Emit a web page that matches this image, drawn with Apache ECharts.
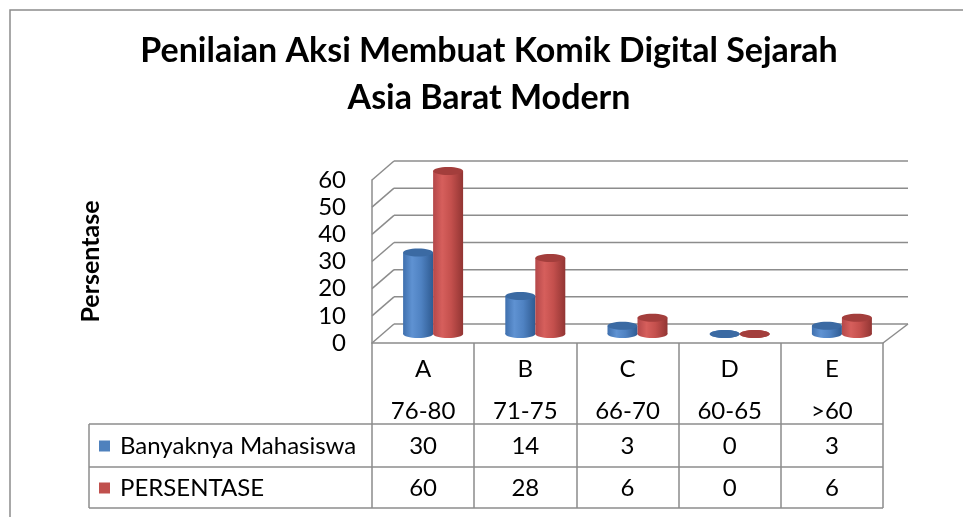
<!DOCTYPE html>
<html>
<head>
<meta charset="utf-8">
<title>Penilaian Aksi Membuat Komik Digital Sejarah Asia Barat Modern</title>
<script src="https://cdn.jsdelivr.net/npm/echarts@6/dist/echarts.min.js"></script>
<style>
  html, body { margin: 0; padding: 0; background: #fff; }
  #chart { width: 963px; height: 517px; }
</style>
</head>
<body>
<div id="chart"></div>
<script>
// 数据
const categories = ['A', 'B', 'C', 'D', 'E']
const ranges = ['76-80', '71-75', '66-70', '60-65', '>60']
const mahasiswa = [30, 14, 3, 0, 3]
const persentase = [60, 28, 6, 0, 6]
const yTicks = [0, 10, 20, 30, 40, 50, 60]

// 3D 外观
const font = 'Lato'
const lineColor = '#8c8c8c'
const depthL = [22, -19]
const depthR = [25, -19]
const midShift = [10, -9]
const radius = 15
const capRy = 4

const bluePal = {
  stops: [
    { offset: 0, color: '#3f70ae' },
    { offset: 0.3, color: '#5f92d2' },
    { offset: 0.6, color: '#4f82c2' },
    { offset: 1, color: '#2f5b92' }
  ],
  cap: '#3b6aa3'
}
const redPal = {
  stops: [
    { offset: 0, color: '#b4484a' },
    { offset: 0.3, color: '#d65f5c' },
    { offset: 0.6, color: '#c4504d' },
    { offset: 1, color: '#923533' }
  ],
  cap: '#a33e3c'
}

// 圆柱
const cylinder = (offset, pal) => (params, api) => {
  const i = api.value(0)
  const base = api.coord([i, 0])
  const top = api.coord([i, api.value(1)])
  const cx = base[0] + offset + midShift[0]
  const y0 = base[1] + midShift[1]
  const y1 = top[1] + midShift[1]
  const grad = new echarts.graphic.LinearGradient(0, 0, 1, 0, pal.stops)
  return {
    type: 'group',
    children: [
      { type: 'ellipse', shape: { cx: cx, cy: y0, rx: radius, ry: capRy }, style: { fill: grad } },
      { type: 'rect', shape: { x: cx - radius, y: y1, width: radius * 2, height: y0 - y1 }, style: { fill: grad } },
      { type: 'ellipse', shape: { cx: cx, cy: y1, rx: radius, ry: capRy }, style: { fill: pal.cap } }
    ]
  }
}

// 背景墙和地面
const renderFrame = (params, api) => {
  const cs = params.coordSys
  const v = api.value(1)
  const y = api.coord([0, v])[1]
  const xL = cs.x
  const xR = cs.x + cs.width
  const st = { stroke: lineColor, lineWidth: 1.5 }
  const children = [
    { type: 'line', shape: { x1: xL, y1: y, x2: xL + depthL[0], y2: y + depthL[1] }, style: st },
    { type: 'line', shape: { x1: xL + depthL[0], y1: y + depthL[1], x2: xR + depthR[0], y2: y + depthR[1] }, style: st }
  ]
  if (v === yTicks[0]) {
    children.push({ type: 'line', shape: { x1: xR, y1: y, x2: xR + depthR[0], y2: y + depthR[1] }, style: st })
  }
  return { type: 'group', children: children }
}

const labelStyle = {
  fontSize: 24,
  fontFamily: font,
  color: '#000',
  lineHeight: 24,
  interval: 0,
  margin: 14
}
const tableAxis = (data, offset) => ({
  type: 'category',
  data: data,
  position: 'bottom',
  offset: offset,
  axisLine: { show: false },
  axisTick: { show: false },
  axisLabel: labelStyle
})

const chart = echarts.init(document.getElementById('chart'))
chart.setOption({
  animation: false,
  title: {
    text: 'Penilaian Aksi Membuat Komik Digital Sejarah\nAsia Barat Modern',
    left: 489,
    top: 28,
    padding: 0,
    textAlign: 'center',
    textStyle: {
      fontSize: 34,
      fontWeight: 'bold',
      fontFamily: font,
      color: '#000',
      lineHeight: 47
    }
  },
  legend: {
    data: ['Banyaknya Mahasiswa', 'PERSENTASE'],
    orient: 'vertical',
    left: 99,
    top: 434,
    padding: 0,
    itemWidth: 11,
    itemHeight: 11,
    itemGap: 18,
    icon: 'rect',
    selectedMode: false,
    textStyle: { fontSize: 24, fontFamily: font, color: '#000', lineHeight: 24, padding: [0, 0, 0, 5] }
  },
  grid: {
    left: 372,
    right: 80,
    top: 180,
    bottom: 174
  },
  xAxis: [
    {
      type: 'category',
      data: categories,
      axisLine: { lineStyle: { color: lineColor, width: 1.5 } },
      axisTick: { show: true, interval: 0, length: 165, lineStyle: { color: lineColor, width: 1.5 } },
      axisLabel: labelStyle
    },
    tableAxis(ranges, 42),
    tableAxis(mahasiswa.map(String), 77),
    tableAxis(persentase.map(String), 119)
  ],
  yAxis: {
    type: 'value',
    min: yTicks[0],
    max: yTicks[yTicks.length - 1],
    interval: yTicks[1] - yTicks[0],
    axisLine: { show: true, lineStyle: { color: lineColor, width: 1.5 } },
    axisTick: { show: false },
    splitLine: { show: false },
    axisLabel: { fontSize: 24, fontFamily: font, color: '#000', margin: 26 },
    name: 'Persentase',
    nameLocation: 'middle',
    nameRotate: 90,
    nameGap: 269,
    nameTextStyle: { fontSize: 25, fontWeight: 'bold', fontFamily: font, color: '#000' }
  },
  graphic: [
    { type: 'rect', shape: { x: 10, y: 10, width: 1000, height: 600 }, style: { fill: 'none', stroke: lineColor, lineWidth: 1.5 } },
    { type: 'line', shape: { x1: 89, y1: 424, x2: 883, y2: 424 }, style: { stroke: lineColor, lineWidth: 1.5 } },
    { type: 'line', shape: { x1: 89, y1: 467, x2: 883, y2: 467 }, style: { stroke: lineColor, lineWidth: 1.5 } },
    { type: 'line', shape: { x1: 89, y1: 508, x2: 883, y2: 508 }, style: { stroke: lineColor, lineWidth: 1.5 } },
    { type: 'line', shape: { x1: 89, y1: 424, x2: 89, y2: 508 }, style: { stroke: lineColor, lineWidth: 1.5 } }
  ],
  series: [
    {
      name: 'frame',
      type: 'custom',
      clip: false,
      silent: true,
      z: 1,
      data: yTicks.map(v => [0, v]),
      encode: { x: 0, y: 1 },
      renderItem: renderFrame
    },
    {
      name: 'Banyaknya Mahasiswa',
      type: 'custom',
      clip: false,
      z: 3,
      itemStyle: { color: '#4f81bd' },
      data: mahasiswa.map((v, i) => [i, v]),
      encode: { x: 0, y: 1 },
      renderItem: cylinder(-15, bluePal)
    },
    {
      name: 'PERSENTASE',
      type: 'custom',
      clip: false,
      z: 3,
      itemStyle: { color: '#c0504d' },
      data: persentase.map((v, i) => [i, v]),
      encode: { x: 0, y: 1 },
      renderItem: cylinder(15, redPal)
    }
  ]
})
</script>
</body>
</html>
